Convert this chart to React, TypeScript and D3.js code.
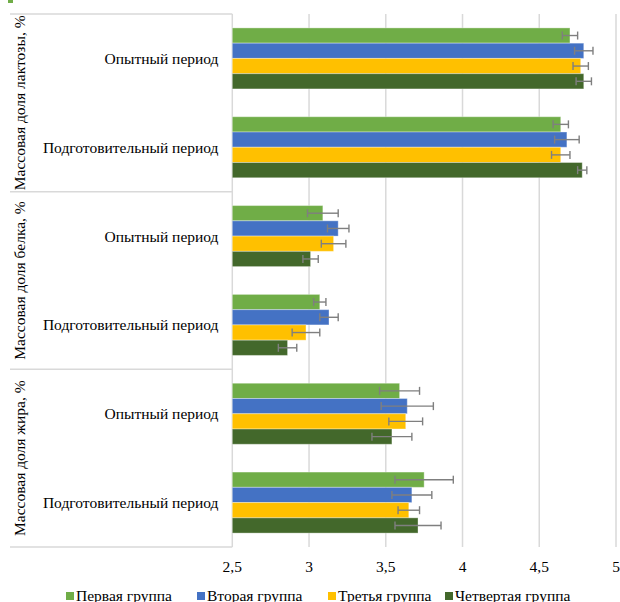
import React from "react";
import * as d3 from "d3";

const rows = [
  "lact_exp", "lact_prep", "prot_exp", "prot_prep", "fat_exp", "fat_prep",
];
const rowLabels = [
  "Опытный период", "Подготовительный период",
  "Опытный период", "Подготовительный период",
  "Опытный период", "Подготовительный период",
];
const groupLabels = [
  "Массовая доля лактозы, %",
  "Массовая доля белка, %",
  "Массовая доля жира, %",
];
const seriesNames = ["Первая группа", "Вторая группа", "Третья группа", "Четвертая группа"];
const seriesColors = ["#70AD47", "#4472C4", "#FFC000", "#43682B"];

// values per row, order: Первая, Вторая, Третья, Четвертая
const firstGroup = [4.70, 4.64, 3.09, 3.07, 3.59, 3.75];
const secondGroup = [4.79, 4.68, 3.19, 3.13, 3.64, 3.67];
const thirdGroup = [4.77, 4.64, 3.16, 2.98, 3.63, 3.65];
const fourthGroup = [4.79, 4.78, 3.01, 2.86, 3.54, 3.71];

const firstErr = [0.05, 0.05, 0.10, 0.04, 0.13, 0.19];
const secondErr = [0.06, 0.08, 0.07, 0.06, 0.17, 0.13];
const thirdErr = [0.05, 0.06, 0.08, 0.09, 0.11, 0.07];
const fourthErr = [0.05, 0.03, 0.05, 0.06, 0.13, 0.15];

const xTicks = [2.5, 3, 3.5, 4, 4.5, 5];

const values = [firstGroup, secondGroup, thirdGroup, fourthGroup];
const errors = [firstErr, secondErr, thirdErr, fourthErr];

export default function App() {
  const W = 620, H = 602;
  const plotTop = 14, plotBottom = 547;
  const x = d3.scaleLinear().domain([2.5, 5]).range([232.3, 616]);
  const p = 0.313;
  const y = d3.scaleBand<string>().domain(rows).range([plotTop, plotBottom])
    .paddingInner(p).paddingOuter(p / 2);
  const ys = d3.scaleBand<number>().domain([0, 1, 2, 3]).range([0, y.bandwidth()]);
  const step = y.step();
  const tf: React.CSSProperties = { fontFamily: "'Liberation Serif', serif", fontSize: 15.5 };
  const fmt = (v: number) => String(v).replace(".", ",");
  const gridColor = "#d9d9d9";
  const legendSq = [66, 197, 328, 445];

  return (
    <svg width={W} height={H} style={{ position: "absolute", left: 0, top: 0 }}>
      <rect x={0} y={0} width={W} height={H} fill="#fff" />
      <rect x={8} y={0} width={5} height={3} fill="#70AD47" />
      {xTicks.map((t) => (
        <line key={t} x1={x(t)} x2={x(t)} y1={plotTop} y2={plotBottom} stroke={gridColor} strokeWidth={1.5} />
      ))}
      {[0, 2, 4, 6].map((i) => (
        <line key={i} x1={10} x2={x(2.5)} y1={plotTop + i * step} y2={plotTop + i * step} stroke={gridColor} strokeWidth={1.5} />
      ))}
      {rows.map((r, ri) => (
        <g key={r}>
          {values.map((vals, si) => {
            const by = (y(r) as number) + (ys(si) as number);
            return (
              <rect key={si} x={x(2.5)} y={by} width={x(vals[ri]) - x(2.5)} height={ys.bandwidth()}
                fill={seriesColors[si]} stroke="#ffffff" strokeOpacity={0.35} strokeWidth={1} />
            );
          })}
        </g>
      ))}
      {rows.map((r, ri) => (
        <g key={r + "e"}>
          {values.map((vals, si) => {
            const cy = (y(r) as number) + (ys(si) as number) + ys.bandwidth() / 2;
            const lo = x(vals[ri] - errors[si][ri]);
            const hi = x(vals[ri] + errors[si][ri]);
            return (
              <g key={si} stroke="#7f7f7f" strokeWidth={1.4}>
                <line x1={lo} x2={hi} y1={cy} y2={cy} />
                <line x1={lo} x2={lo} y1={cy - 4} y2={cy + 4} />
                <line x1={hi} x2={hi} y1={cy - 4} y2={cy + 4} />
              </g>
            );
          })}
        </g>
      ))}
      {rows.map((r, ri) => (
        <text key={r + "l"} x={218.5} y={(y(r) as number) + y.bandwidth() / 2} textAnchor="end"
          dominantBaseline="central" style={tf} fill="#000">{rowLabels[ri]}</text>
      ))}
      {groupLabels.map((g, gi) => {
        const cy = plotTop + (gi * 2 + 1) * step;
        return (
          <text key={g} transform={`translate(25,${cy}) rotate(-90)`} textAnchor="middle" style={tf} fill="#000">{g}</text>
        );
      })}
      {xTicks.map((t) => (
        <text key={t + "t"} x={x(t)} y={572} textAnchor="middle" style={tf} fill="#000">{fmt(t)}</text>
      ))}
      {seriesNames.map((s, si) => (
        <g key={s}>
          <rect x={legendSq[si]} y={592} width={8} height={8} fill={seriesColors[si]} />
          <text x={legendSq[si] + 10} y={600.5} style={tf} fill="#000">{s}</text>
        </g>
      ))}
    </svg>
  );
}
